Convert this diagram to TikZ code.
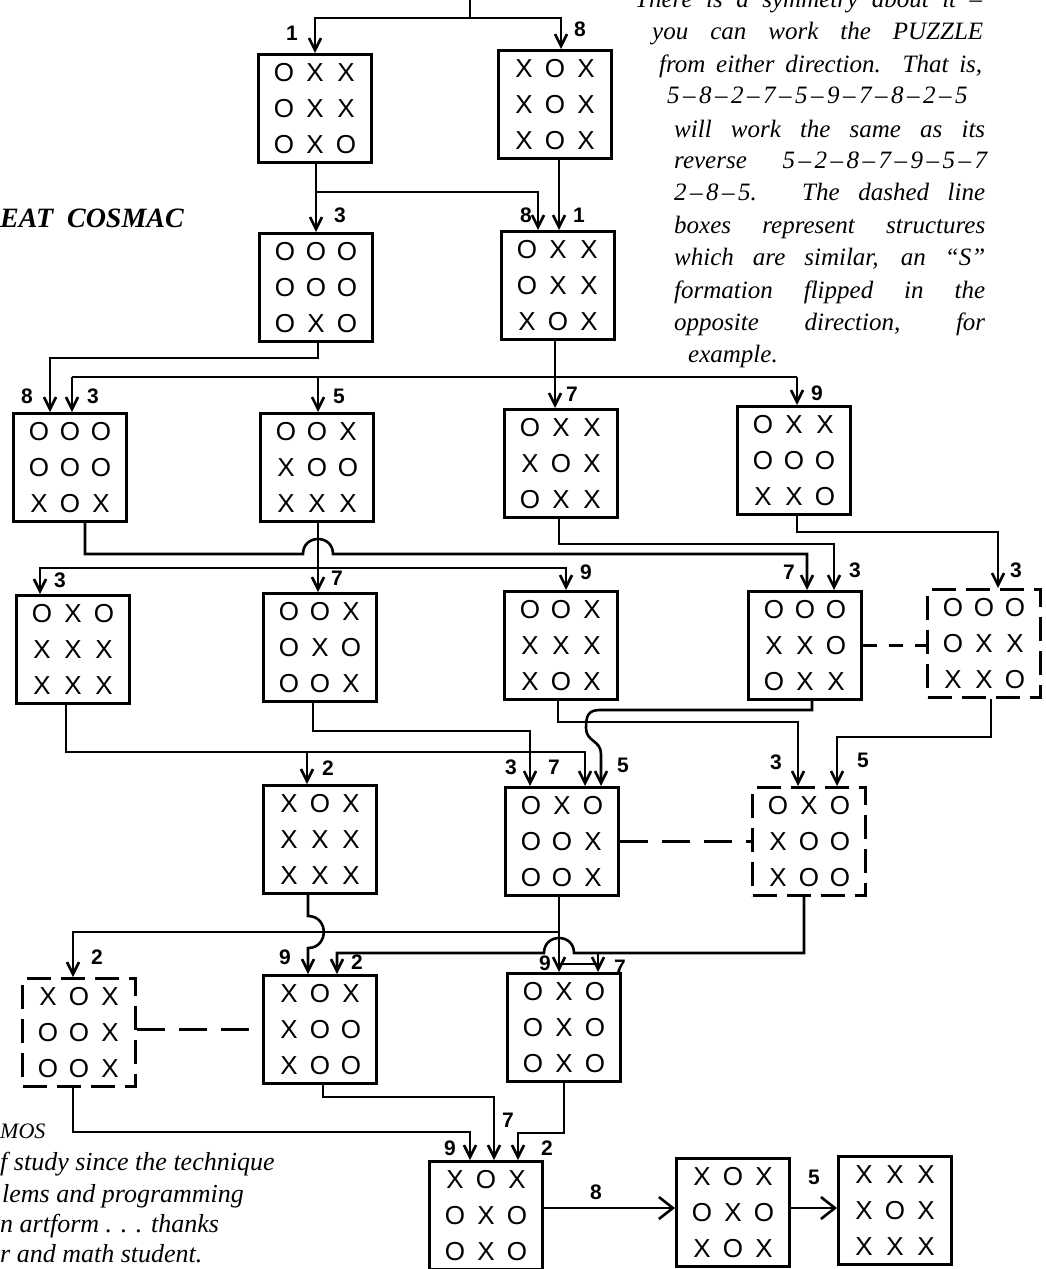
\documentclass[tikz,border=0pt]{standalone}
\usepackage{fontspec}
\setmainfont{Liberation Serif}
\newfontfamily\marksf{Liberation Sans}
\usetikzlibrary{arrows.meta}

% one row of a 3x3 board, and the whole board
\newcommand\cellrow[3]{\makebox[31pt]{#1}\makebox[31pt]{#2}\makebox[31pt]{#3}}
\newcommand\grid[9]{\cellrow{#1}{#2}{#3}\\\cellrow{#4}{#5}{#6}\\\cellrow{#7}{#8}{#9}}
% spaced dash between move numbers
\newcommand\dd{\kern3.5pt–\kern3.5pt}

\tikzset{
  board/.style={draw, line width=3pt, minimum width=113pt, minimum height=108pt,
    inner sep=0pt, anchor=north west, align=center,
    font=\marksf\fontsize{26}{36}\selectfont},
  ghost/.style={board, dash pattern=on 24pt off 10pt},
  conn/.style={line width=2.6pt},
  arr/.style={conn, -{Straight Barb[length=12pt,width=12pt]}},
  bigarr/.style={conn, -{Straight Barb[length=14pt,width=22pt]}},
  link/.style={line width=2.6pt, dash pattern=on 28pt off 14pt},
  num/.style={font=\marksf\bfseries\fontsize{21}{21}\selectfont, inner sep=0pt},
  prose/.style={font=\itshape\fontsize{25}{32}\selectfont, inner sep=0pt, anchor=base west},
  blurb/.style={font=\itshape\fontsize{26}{30}\selectfont, inner sep=0pt, anchor=base west},
}

\begin{document}
\begin{tikzpicture}[x=1pt,y=-1pt]
\useasboundingbox (0,0) rectangle (1046,1269);

% ---- boards ----
\node[board] (r1a) at (257,53)  {\grid OXXOXXOXO};
\node[board] (r1b) at (497,49)  {\grid XOXXOXXOX};

\node[board] (r2a) at (258,232) {\grid OOOOOOOXO};
\node[board] (r2b) at (500,230) {\grid OXXOXXXOX};

\node[board] (r3a) at (12,412)  {\grid OOOOOOXOX};
\node[board] (r3b) at (259,412) {\grid OOXXOOXXX};
\node[board] (r3c) at (503,408) {\grid OXXXOXOXX};
\node[board] (r3d) at (736,405) {\grid OXXOOOXXO};

\node[board] (r4a) at (15,594)  {\grid OXOXXXXXX};
\node[board] (r4b) at (262,592) {\grid OOXOXOOOX};
\node[board] (r4c) at (503,590) {\grid OOXXXXXOX};
\node[board] (r4d) at (747,590) {\grid OOOXXOOXX};
\node[ghost] (r4e) at (926,588) {\grid OOOOXXXXO};

\node[board] (r5a) at (262,784) {\grid XOXXXXXXX};
\node[board] (r5b) at (504,786) {\grid OXOOOXOOX};
\node[ghost] (r5c) at (751,786) {\grid OXOXOOXOO};

\node[ghost] (r6a) at (21,977)  {\grid XOXOOXOOX};
\node[board] (r6b) at (262,974) {\grid XOXXOOXOO};
\node[board] (r6c) at (506,972) {\grid OXOOXOOXO};

\node[board] (r7a) at (428,1160) {\grid XOXOXOOXO};
\node[board] (r7b) at (675,1157) {\grid XOXOXOXOX};
\node[board] (r7c) at (837,1155) {\grid XXXXOXXXX};

% ---- feed into the first two boards ----
\coordinate (feed) at (470,-2);
\coordinate (fj) at (470,18);
\draw[conn] (feed) -- (fj);
\draw[arr] (fj) -| (315,0 |- r1a.north);
\draw[arr] (fj) -| (561,0 |- r1b.north);

% ---- row 1 to row 2 ----
\draw[arr] (316,0 |- r1a.south) -- (316,0 |- r2a.north);
\draw[arr] (316,192) -- (538,192) -- (538,0 |- r2b.north);
\draw[arr] (559,0 |- r1b.south) -- (559,0 |- r2b.north);

% ---- row 2 to row 3 ----
\draw[arr] (318,0 |- r2a.south) -- (318,358) -- (50,358) -- (50,0 |- r3a.north);
\draw[conn] (555,0 |- r2b.south) -- (555,377);
\draw[conn] (72,377) -- (797,377);
\draw[arr] (72,377) -- (72,0 |- r3a.north);
\draw[arr] (318,377) -- (318,0 |- r3b.north);
\draw[arr] (555,377) -- (555,0 |- r3c.north);
\draw[arr] (797,377) -- (797,0 |- r3d.north);

% ---- row 3 to row 4 ----
\draw[arr] (85,0 |- r3a.south) -- (85,554) -- (303,554)
  .. controls (303,534) and (333,534) .. (333,554) -- (807,554) -- (807,0 |- r4d.north);
\draw[arr] (318,0 |- r3b.south) -- (318,0 |- r4b.north);
\draw[arr] (318,568) -- (40,568) -- (40,0 |- r4a.north);
\draw[arr] (318,568) -- (566,568) -- (566,0 |- r4c.north);
\draw[arr] (559,0 |- r3c.south) -- (559,544) -- (834,544) -- (834,0 |- r4d.north);
\draw[arr] (797,0 |- r3d.south) -- (797,532) -- (998,532) -- (998,0 |- r4e.north);

% ---- row 4 to row 5 ----
\draw[arr] (66,0 |- r4a.south) -- (66,752) -- (585,752) -- (585,0 |- r5b.north);
\draw[arr] (307,752) -- (307,0 |- r5a.north);
\draw[arr] (313,0 |- r4b.south) -- (313,731) -- (530,731) -- (530,0 |- r5b.north);
\draw[arr] (558,0 |- r4c.south) -- (558,722) -- (798,722) -- (798,0 |- r5c.north);
\draw[arr] (812,0 |- r4d.south) -- (812,710) -- (600,710)
  .. controls (588,710) and (586,716) .. (586,728)
  .. controls (586,742) and (601,740) .. (601,754) -- (601,0 |- r5b.north);
\draw[arr] (991,0 |- r4e.south) -- (991,737) -- (837,737) -- (837,0 |- r5c.north);

% ---- similar structures ----
\draw[link, dash pattern=on 14pt off 12pt] (r4d.east) -- (r4d.east -| r4e.west);
\draw[link] (r5b.east) -- (r5b.east -| r5c.west);
\draw[link] (r6b.west -| r6a.east) -- (r6b.west);

% ---- row 5 to row 6 ----
\draw[arr] (308,0 |- r5a.south) -- (308,916)
  .. controls (329,916) and (329,948) .. (308,948) -- (308,0 |- r6b.north);
\draw[arr] (559,0 |- r5b.south) -- (559,0 |- r6c.north);
\draw[arr] (559,932) -- (73,932) -- (73,0 |- r6a.north);
\draw[conn] (559,964) -- (598,964);
\draw[arr] (598,954) -- (598,0 |- r6c.north);
\draw[arr] (804,0 |- r5c.south) -- (804,953) -- (574,953)
  .. controls (574,933) and (544,933) .. (544,953) -- (337,953) -- (337,0 |- r6b.north);

% ---- row 6 to row 7 ----
\draw[arr] (73,0 |- r6a.south) -- (73,1132) -- (470,1132) -- (470,0 |- r7a.north);
\draw[arr] (323,0 |- r6b.south) -- (323,1097) -- (494,1097) -- (494,0 |- r7a.north);
\draw[arr] (564,0 |- r6c.south) -- (564,1133) -- (518,1133) -- (518,0 |- r7a.north);

% ---- last two moves ----
\draw[bigarr] (r7a.east |- 0,1208) -- (r7b.west |- 0,1208);
\draw[bigarr] (r7b.east |- 0,1208) -- (r7c.west |- 0,1208);

% ---- move numbers ----
\foreach \x/\y/\t [count=\i] in {
  292/33/1, 580/29/8,
  340/215/3, 526/215/8, 579/215/1,
  27/396/8, 93/396/3, 339/396/5, 572/394/7, 817/393/9,
  60/580/3, 337/578/7, 586/572/9, 789/572/7, 855/570/3, 1016/570/3,
  328/768/2, 511/767/3, 554/767/7, 623/765/5, 776/762/3, 863/760/5,
  97/957/2, 285/957/9, 357/962/2, 545/963/9, 620/967/7,
  450/1148/9, 508/1120/7, 547/1148/2, 596/1192/8, 814/1177/5}
  \node[num] (mv\i) at (\x,\y) {\t};

% ---- side notes ----
\node[font=\bfseries\itshape\fontsize{28}{28}\selectfont, inner sep=0pt, anchor=base west]
  (title) at (0,227) {EAT\ \ COSMAC};

\node[prose] (p1) at (635,7) {\makebox[347pt][s]{There is a symmetry about it –}};
\node[prose] (p2) at (652,39) {\makebox[331pt][s]{you can work the PUZZLE}};
\node[prose] (p3) at (659,72) {\makebox[323pt][s]{from either direction. That is,}};
\node[prose] (p4) at (667,103) {5\dd8\dd2\dd7\dd5\dd9\dd7\dd8\dd2\dd5};
\node[prose] (p5) at (674,137) {\makebox[311pt][s]{will work the same as its}};
\node[prose] (p6) at (674,168) {\makebox[313pt][s]{reverse 5\dd2\dd8\dd7\dd9\dd5\dd7}};
\node[prose] (p7) at (674,200) {\makebox[311pt][s]{2\dd8\dd5. The dashed line}};
\node[prose] (p8) at (674,233) {\makebox[311pt][s]{boxes represent structures}};
\node[prose] (p9) at (674,265) {\makebox[311pt][s]{which are similar, an “S”}};
\node[prose] (p10) at (674,298) {\makebox[311pt][s]{formation flipped in the}};
\node[prose] (p11) at (674,330) {\makebox[311pt][s]{opposite direction, for}};
\node[prose] (p12) at (688,362) {example.};

\node[blurb, font=\itshape\fontsize{22}{22}\selectfont] (b0) at (0,1138) {MOS};
\node[blurb] (b1) at (0,1170) {f study since the technique};
\node[blurb] (b2) at (2,1202) {lems and programming};
\node[blurb] (b3) at (0,1232) {n artform . . . thanks};
\node[blurb] (b4) at (0,1262) {r and math student.};

\end{tikzpicture}
\end{document}
